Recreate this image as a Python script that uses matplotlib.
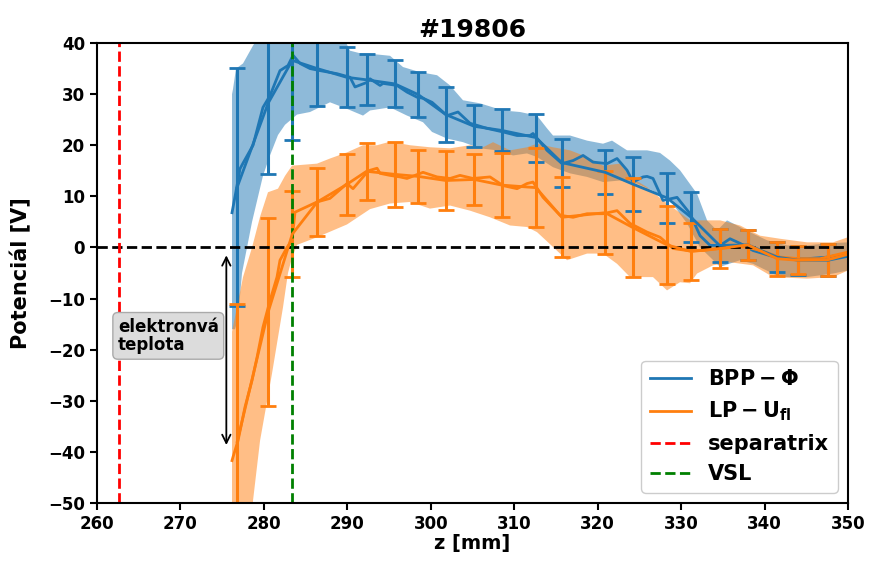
import matplotlib
matplotlib.use("Agg")
import matplotlib.pyplot as plt
from matplotlib.lines import Line2D
import numpy as np

# ---------------- data ----------------
# binned points with error bars
bin_z = [276.8, 280.5, 283.4, 286.4, 289.9, 292.3, 295.7, 298.5, 301.8, 305.2,
         308.5, 312.6, 315.7, 320.9, 324.2, 328.3, 331.2, 334.6, 338.0, 341.5,
         344.0, 347.6, 351.0]
bpp_mean = [11.8, 28.2, 36.6, 35.0, 33.3, 32.8, 32.0, 29.9, 26.0, 23.7,
            22.9, 21.5, 16.6, 14.7, 12.4, 9.7, 5.9, 0.4, 0.5, -1.9,
            -2.5, -2.5, -1.4]
bpp_err = [23.3, 13.8, 15.5, 7.4, 5.9, 5.0, 4.6, 4.4, 5.4, 4.1,
           4.1, 4.7, 4.7, 4.3, 5.3, 4.9, 4.9, 3.3, 3.0, 2.9,
           2.8, 3.1, 3.0]
lp_mean = [-38.0, -12.7, 2.6, 8.9, 12.3, 14.9, 14.3, 13.9, 13.1, 13.3,
           12.2, 11.7, 5.9, 6.8, 3.9, 0.5, -0.8, -0.2, 0.5, -2.2,
           -2.5, -2.4, -0.9]
lp_err = [27.0, 18.4, 8.4, 6.6, 6.0, 5.6, 6.4, 5.2, 5.7, 4.9,
          6.3, 7.7, 7.8, 8.1, 9.7, 7.7, 5.5, 3.9, 3.0, 3.3,
          2.7, 3.1, 3.0]

# raw (unbinned) profiles
bpp_raw_z = [276.18, 276.66, 277.14, 277.50, 278.70, 279.89, 280.73, 281.93, 282.89, 283.49,
             284.33, 285.53, 286.73, 288.76, 290.32, 290.92, 292.36, 292.72, 293.92, 294.28,
             295.95, 297.15, 298.35, 299.07, 300.15, 301.95, 303.26, 304.70, 306.74, 308.66,
             310.34, 311.89, 312.25, 313.93, 315.73, 317.05, 318.25, 319.44, 321.12, 322.32,
             323.52, 324.24, 325.44, 325.92, 326.63, 327.83, 329.51, 331.07, 332.27, 333.47,
             334.67, 335.86, 337.06, 338.62, 340.66, 342.70, 345.09, 347.49, 350.0]
bpp_raw = [6.8, 11.0, 15.4, 16.5, 20.0, 27.4, 29.7, 34.6, 35.6, 37.6,
           36.0, 35.0, 34.6, 34.0, 33.3, 31.4, 32.3, 33.0, 31.7, 32.1,
           31.7, 30.4, 29.4, 29.2, 28.4, 25.8, 26.5, 24.3, 23.3, 22.6,
           21.9, 21.9, 22.3, 19.0, 16.4, 17.0, 18.0, 16.7, 16.4, 17.4,
           15.1, 12.8, 13.8, 13.9, 13.5, 9.2, 9.8, 6.6, 2.3, 0.4,
           0.4, 1.7, 0.8, -0.6, -1.6, -2.2, -2.2, -1.9, -1.2]
lp_raw_z = [276.18, 276.30, 276.90, 277.74, 278.58, 279.18, 279.89, 280.73, 281.57, 281.93,
            282.77, 283.37, 283.61, 283.73, 286.37, 287.92, 289.96, 290.68, 292.36, 292.72,
            293.56, 293.92, 295.12, 296.31, 297.15, 299.07, 300.75, 302.31, 303.50, 305.06,
            307.10, 308.66, 310.34, 311.53, 312.25, 313.45, 315.49, 317.05, 318.73, 320.64,
            322.32, 323.88, 325.92, 327.47, 329.03, 330.71, 332.63, 334.67, 336.70, 337.90,
            339.46, 341.86, 344.25, 346.65, 350.0]
lp_raw = [-41.7, -41.0, -37.8, -31.2, -26.0, -21.5, -15.6, -10.4, -5.8, -2.5,
          0.0, 1.4, 5.0, 6.9, 8.9, 9.6, 12.5, 11.5, 14.7, 15.1,
          15.5, 14.5, 14.1, 13.8, 13.5, 14.7, 13.8, 13.5, 14.1, 13.5,
          13.8, 12.1, 11.5, 12.5, 12.8, 9.8, 6.3, 5.9, 6.6, 6.6,
          7.2, 4.7, 3.0, 2.0, -0.2, -0.6, -0.6, -0.2, 0.1, 0.1,
          -0.6, -1.9, -2.2, -2.2, -0.9]

# spread bands
bpp_up_z = [276.18, 276.30, 276.66, 277.50, 278.70, 279.30, 280.5, 284.3, 287.9, 289.72,
            290.32, 291.52, 292.72, 295.12, 296.67, 298.71, 300.75, 302.31, 303.86, 305.90,
            308.66, 310.70, 312.73, 313.93, 314.65, 316.69, 318.73, 320.64, 321.72, 323.52,
            325.92, 327.47, 328.67, 329.87, 331.91, 333.11, 334.31, 335.50, 337.06, 338.62,
            340.30, 342.70, 345.09, 347.49, 350.0]
bpp_up = [30.0, 31.0, 35.0, 36.0, 39.5, 41.0, 43.0, 45.0, 43.0, 40.5,
          38.5, 38.0, 37.9, 37.5, 35.3, 34.3, 33.7, 31.7, 28.8, 28.2,
          26.8, 26.5, 25.8, 23.3, 21.9, 21.9, 20.9, 20.3, 20.9, 19.0,
          19.0, 18.5, 17.0, 15.1, 10.5, 5.3, 3.3, 5.3, 4.0, 2.7,
          1.4, 0.4, 0.4, 0.8, 1.0]
bpp_lo_z = [276.18, 276.54, 276.90, 277.38, 278.58, 279.89, 280.73, 281.69, 282.53, 283.97,
            285.53, 287.92, 289.84, 291.88, 292.72, 295.12, 297.15, 299.07, 300.15, 301.95,
            303.86, 305.90, 307.94, 309.86, 311.53, 312.73, 314.65, 316.69, 318.73, 320.64,
            322.68, 324.72, 326.63, 328.67, 330.71, 332.27, 334.67, 337.06, 338.62, 341.86,
            345.09, 348.21, 350.0]
bpp_lo = [-16.0, -16.0, -14.0, -5.0, 5.0, 14.0, 18.0, 22.0, 24.0, 26.0,
          26.5, 28.4, 27.2, 25.8, 26.8, 27.4, 25.8, 24.5, 22.6, 21.3,
          20.6, 19.4, 19.0, 18.0, 18.4, 17.7, 15.7, 14.5, 13.8, 12.8,
          13.1, 12.5, 11.1, 9.2, 4.7, 0.0, -3.8, -2.5, -3.2, -5.8,
          -5.8, -5.1, -4.5]
lp_up_z = [276.18, 277.50, 278.58, 279.54, 280.49, 281.69, 282.53, 283.37, 286.37, 287.92,
           289.96, 291.88, 293.56, 295.12, 297.51, 299.91, 302.31, 304.70, 306.26, 307.46,
           309.50, 311.53, 312.73, 314.65, 316.69, 318.73, 320.64, 322.68, 323.88, 325.92,
           327.83, 329.51, 331.07, 332.63, 334.67, 337.06, 339.46, 341.86, 345.09, 348.21,
           350.0]
lp_up = [-16.5, -5.8, 0.0, 6.0, 10.8, 11.5, 14.0, 16.0, 16.4, 17.4,
         18.6, 20.0, 20.0, 20.7, 20.0, 19.6, 19.4, 20.0, 19.6, 20.6,
         19.0, 19.6, 20.3, 19.6, 19.0, 17.7, 16.0, 16.4, 13.8, 11.8,
         9.2, 7.2, 5.3, 5.3, 5.3, 4.3, 2.3, 1.7, 1.0, 1.0,
         2.0]
lp_lo_z = [276.18, 278.5, 278.70, 279.54, 280.97, 282.29, 282.89, 283.37, 283.97, 286.37,
           289.96, 292.72, 295.12, 297.51, 299.91, 302.31, 304.70, 307.10, 309.50, 311.53,
           312.73, 314.65, 316.33, 318.73, 320.64, 322.32, 323.88, 326.63, 328.31, 329.87,
           331.07, 331.91, 333.83, 335.86, 338.62, 341.02, 345.09, 348.21, 350.0]
lp_lo = [-55.0, -55.0, -49.5, -37.8, -24.7, -11.7, -5.0, -2.0, 0.5, 2.0,
         4.5, 7.5, 8.6, 8.9, 7.6, 8.2, 7.2, 5.9, 4.3, 4.0,
         3.0, 0.1, -2.5, -1.2, -1.2, -3.2, -5.8, -5.8, -8.4, -6.8,
         -7.0, -5.1, -3.5, -2.9, -3.5, -5.8, -6.1, -5.8, -4.5]

separatrix_z = 262.6
vsl_z = 283.35
arrow_z = 275.5
arrow_top, arrow_bottom = -1.0, -39.2
legend_labels = [r"$\mathbf{BPP-\Phi}$", r"$\mathbf{LP-U_{fl}}$", "separatrix", "VSL"]

# ---------------- plot ----------------
blue = "#1f77b4"
orange = "#ff7f0e"

fig = plt.figure(figsize=(8.73, 5.69), dpi=100)
ax = fig.add_axes([0.1111, 0.116, 0.8603, 0.8084])

ax.fill(bpp_up_z + bpp_lo_z[::-1], bpp_up + bpp_lo[::-1], color=blue, alpha=0.5, lw=0)
ax.fill(lp_up_z + lp_lo_z[::-1], lp_up + lp_lo[::-1], color=orange, alpha=0.5, lw=0)

ax.plot(bpp_raw_z, bpp_raw, color=blue, lw=2)
ax.plot(lp_raw_z, lp_raw, color=orange, lw=2)

ax.errorbar(bin_z, bpp_mean, yerr=bpp_err, color=blue, lw=2, elinewidth=2.2,
            capsize=6, capthick=2)
ax.errorbar(bin_z, lp_mean, yerr=lp_err, color=orange, lw=2, elinewidth=2.2,
            capsize=6, capthick=2)

ax.axhline(0, color="black", ls="--", lw=2)
ax.axvline(separatrix_z, color="red", ls="--", lw=2)
ax.axvline(vsl_z, color="green", ls="--", lw=2)

ax.annotate("", xy=(arrow_z, arrow_top), xytext=(arrow_z, arrow_bottom),
            arrowprops=dict(arrowstyle="<->", color="black", lw=1.3, mutation_scale=15))
ax.text(262.5, -17.3, "elektronvá\nteplota", fontsize=12, fontweight="bold",
        va="center", ha="left", linespacing=1.05,
        bbox=dict(boxstyle="round,pad=0.3", facecolor="#dcdcdc", edgecolor="#aaaaaa"))

ax.set_xlim(260, 350)
ax.set_ylim(-50, 40)
ax.set_xticks(np.arange(260, 351, 10))
ax.set_yticks(np.arange(-50, 41, 10))
ax.set_yticklabels([f"{v}".replace("-", "\u2212") for v in range(-50, 41, 10)])
ax.tick_params(labelsize=12, width=1.5, length=5)
for lab in ax.get_xticklabels() + ax.get_yticklabels():
    lab.set_fontweight("bold")
for s in ax.spines.values():
    s.set_linewidth(1.5)

ax.set_title("#19806", fontsize=18, fontweight="bold", pad=4)
ax.set_xlabel("z [mm]", fontsize=14, fontweight="bold", labelpad=1)
ax.set_ylabel("Potenciál [V]", fontsize=15, fontweight="bold", labelpad=12)

handles = [Line2D([], [], color=blue, lw=2),
           Line2D([], [], color=orange, lw=2),
           Line2D([], [], color="red", lw=2, ls="--"),
           Line2D([], [], color="green", lw=2, ls="--")]
ax.legend(handles, legend_labels, loc="lower right",
          prop={"weight": "bold", "size": 15}, framealpha=1, borderaxespad=0.5)

fig.savefig("out.png", dpi=100)
